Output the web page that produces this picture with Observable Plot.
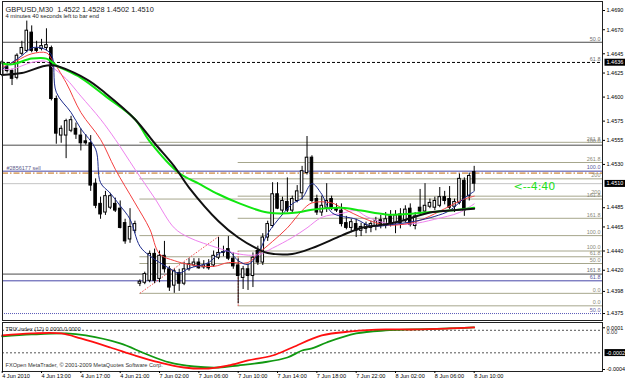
<!DOCTYPE html>
<html><head><meta charset="utf-8">
<script src="https://cdn.jsdelivr.net/npm/d3@7"></script>
<script src="https://cdn.jsdelivr.net/npm/@observablehq/plot@0.6"></script>
<style>
html,body{margin:0;padding:0;background:#fff;}
#wrap{position:relative;width:625px;height:382px;overflow:hidden;background:#fff;}
#wrap svg{position:absolute;left:0;display:block;}
</style></head>
<body><div id="wrap"></div>
<script>
// ---------------- data ----------------
const symbol = "GBPUSD,M30";
const lastQuote = [1.4522, 1.4528, 1.4502, 1.4510];
const timeLeft = "4 minutes 40 seconds left to bar end";
const timerText = "<--4:40";
const orderText = "#2856177 sell";
const trixTitle = "TRIX index (12) 0.0000 0.0000";
const copyright = "FXOpen MetaTrader, \u00a9 2001-2009 MetaQuotes Software Corp.";

const openP = [1.4623,1.4631,1.4627,1.4620,1.4645,1.4648,1.4667,1.4650,1.4650,1.4651,
1.4651,1.4598,1.4560,1.4560,1.4565,1.4567,1.4560,1.4554,1.4552,1.4510,
1.4489,1.4480,1.4485,1.4489,1.4484,1.4469,1.4452,1.4461,1.4406,1.4407,
1.4409,1.4437,1.4411,1.4435,1.4421,1.4404,1.4417,1.4406,1.4421,1.4425,
1.4428,1.4423,1.4426,1.4425,1.4433,1.4438,1.4442,1.4432,1.4425,1.4412,
1.4421,1.4414,1.4440,1.4428,1.4454,1.4466,1.4499,1.4482,1.4491,1.4482,
1.4492,1.4500,1.4521,1.4537,1.4494,1.4480,1.4485,1.4494,1.4484,1.4482,
1.4469,1.4464,1.4468,1.4461,1.4463,1.4464,1.4466,1.4472,1.4466,1.4476,
1.4469,1.4478,1.4471,1.4484,1.4466,1.4485,1.4481,1.4486,1.4485,1.4487,
1.4496,1.4494,1.4486,1.4490,1.4513,1.4497,1.4522];
const highP = [1.4638,1.4636,1.4629,1.4645,1.4658,1.4679,1.4674,1.4658,1.4660,1.4671,
1.4653,1.4601,1.4570,1.4577,1.4580,1.4573,1.4567,1.4561,1.4560,1.4515,
1.4496,1.4502,1.4500,1.4495,1.4492,1.4473,1.4484,1.4471,1.4410,1.4418,
1.4440,1.4442,1.4440,1.4450,1.4424,1.4421,1.4421,1.4428,1.4432,1.4432,
1.4432,1.4430,1.4431,1.4440,1.4454,1.4445,1.4455,1.4438,1.4432,1.4424,
1.4426,1.4438,1.4445,1.4458,1.4471,1.4511,1.4511,1.4496,1.4516,1.4497,
1.4508,1.4528,1.4559,1.4539,1.4498,1.4497,1.4510,1.4497,1.4489,1.4489,
1.4476,1.4473,1.4473,1.4469,1.4470,1.4471,1.4475,1.4477,1.4480,1.4482,
1.4482,1.4484,1.4487,1.4489,1.4480,1.4504,1.4510,1.4494,1.4496,1.4506,
1.4502,1.4507,1.4494,1.4520,1.4516,1.4521,1.4528];
const lowP = [1.4621,1.4625,1.4612,1.4618,1.4643,1.4646,1.4646,1.4646,1.4648,1.4648,
1.4596,1.4551,1.4552,1.4536,1.4563,1.4556,1.4544,1.4550,1.4502,1.4484,
1.4473,1.4477,1.4483,1.4480,1.4463,1.4447,1.4448,1.4458,1.4403,1.4405,
1.4407,1.4406,1.4407,1.4417,1.4398,1.4396,1.4398,1.4404,1.4419,1.4423,
1.4421,1.4421,1.4420,1.4423,1.4431,1.4434,1.4430,1.4421,1.4385,1.4400,
1.4399,1.4402,1.4425,1.4425,1.4450,1.4464,1.4483,1.4477,1.4480,1.4480,
1.4490,1.4493,1.4519,1.4490,1.4477,1.4476,1.4480,1.4482,1.4480,1.4465,
1.4462,1.4459,1.4454,1.4455,1.4458,1.4459,1.4461,1.4463,1.4463,1.4465,
1.4458,1.4463,1.4469,1.4465,1.4462,1.4478,1.4478,1.4484,1.4482,1.4485,
1.4488,1.4483,1.4480,1.4488,1.4476,1.4492,1.4502];
const closeP = [1.4636,1.4627,1.4619,1.4643,1.4651,1.4669,1.4648,1.4648,1.4653,1.4654,
1.4598,1.4562,1.4567,1.4575,1.4576,1.4561,1.4552,1.4552,1.4508,1.4487,
1.4478,1.4497,1.4497,1.4482,1.4464,1.4450,1.4465,1.4468,1.4408,1.4416,
1.4437,1.4409,1.4435,1.4421,1.4402,1.4419,1.4406,1.4421,1.4426,1.4428,
1.4422,1.4425,1.4422,1.4435,1.4438,1.4439,1.4432,1.4424,1.4414,1.4421,
1.4414,1.4433,1.4428,1.4454,1.4468,1.4499,1.4484,1.4492,1.4482,1.4494,
1.4502,1.4523,1.4537,1.4492,1.4480,1.4487,1.4492,1.4484,1.4482,1.4468,
1.4464,1.4470,1.4461,1.4465,1.4467,1.4468,1.4471,1.4467,1.4473,1.4469,
1.4477,1.4469,1.4483,1.4467,1.4476,1.4481,1.4487,1.4490,1.4492,1.4496,
1.4492,1.4485,1.4491,1.4515,1.4482,1.4518,1.4510];

// moving averages: [bar, price]
const maBlack = [[0,1.4623],[4,1.4625],[10,1.4633],[17,1.4619],[21,1.4604],[27,1.4577],[31,1.4552],[35,1.4528],[38,1.4506],[44,1.4471],[48,1.4454],[52,1.4442],[54,1.4438],[59,1.4437],[63,1.4443],[69,1.4456],[73,1.4464],[77,1.4467],[81,1.4471],[87,1.4480],[91,1.4482],[96,1.4484]];
const maGreen = [[0,1.4635],[2,1.4634],[6,1.4640],[9,1.4640],[11,1.4633],[16,1.4620],[21,1.4601],[27,1.4577],[30,1.4554],[36,1.4521],[40,1.4510],[44,1.4499],[48,1.4490],[54,1.4480],[60,1.4480],[63,1.4483],[69,1.4485],[73,1.4482],[78,1.4478],[81,1.4478],[86,1.4480],[91,1.4482],[96,1.4485]];
const maViolet = [[0,1.4629],[2,1.4629],[6,1.4636],[9,1.4637],[10,1.4632],[13,1.4619],[16,1.4601],[20,1.4577],[23,1.4556],[27,1.4525],[31,1.4495],[35,1.4464],[38,1.4454],[44,1.4443],[48,1.4437],[52,1.4436],[55,1.4443],[59,1.4454],[62,1.4464],[65,1.4475],[69,1.4479],[72,1.4482],[74,1.4476],[78,1.4469],[83,1.4468],[88,1.4473],[93,1.4480],[96,1.4489]];
const maRed = [[0,1.4631],[3,1.4638],[6,1.4645],[9,1.4646],[10,1.4640],[13,1.4615],[16,1.4584],[20,1.4556],[23,1.4525],[27,1.4490],[30,1.4463],[32,1.4437],[35,1.4430],[38,1.4426],[43,1.4424],[46,1.4428],[50,1.4428],[52,1.4437],[55,1.4450],[58,1.4464],[61,1.4482],[63,1.4490],[67,1.4490],[69,1.4485],[74,1.4473],[78,1.4467],[83,1.4469],[86,1.4474],[90,1.4484],[94,1.4494],[96,1.4497]];
const maBlue = [[0,1.4629],[2,1.4636],[4,1.4643],[6,1.4651],[8,1.4651],[10,1.4644],[11,1.4605],[14,1.4584],[16,1.4567],[19,1.4546],[20,1.4511],[22,1.4500],[24,1.4487],[26,1.4473],[28,1.4445],[30,1.4435],[34,1.4422],[36,1.4417],[38,1.4422],[42,1.4428],[44,1.4437],[46,1.4440],[48,1.4430],[50,1.4426],[52,1.4437],[54,1.4458],[57,1.4478],[59,1.4489],[61,1.4495],[63,1.4510],[65,1.4499],[67,1.4480],[72,1.4473],[75,1.4466],[80,1.4468],[84,1.4471],[88,1.4476],[91,1.4482],[94,1.4495],[96,1.4502]];

// TRIX: [bar, value]
const trixRed = [[0,0.000008],[6,0.000032],[12,0.000032],[16,-0.000028],[22,-0.000136],[27,-0.000232],[32,-0.000316],[37,-0.000376],[42,-0.000388],[46,-0.000352],[50,-0.000292],[55,-0.000232],[59,-0.000136],[65,0.000008],[71,0.000056],[78,0.00008],[84,0.00008],[91,0.000092],[96,0.000104]];
const trixGreen = [[0,-0.000004],[6,0.00002],[13,0.000032],[17,0.000008],[24,-0.000088],[29,-0.000208],[34,-0.000316],[39,-0.000364],[44,-0.000376],[48,-0.000352],[53,-0.000316],[58,-0.000256],[61,-0.000172],[63,-0.000148],[66,-0.000076],[72,0.000032],[78,0.000068],[84,0.00008],[91,0.000092],[96,0.000104]];
const trixLevels = [0.00007, -0.0002];
const trixTicks = [0.0001, -0.0004];
const trixHighlight = [-0.0002];
const trixLevelText = ["0.00"];

// horizontal objects
const levelPrice = [1.4657,1.4636,1.4550,1.4523,1.4521,1.4510,1.4416,1.4409,1.4375,
  1.4553,1.4515,1.4494,1.4456,1.4434,1.4427,1.4396,
  1.4532,1.4497,1.4474,1.4440,1.4383];
const levelFrom = [null,null,null,null,null,null,null,null,null,
  28,28,28,28,28,28,28,
  48,48,48,48,48];
const levelLabel = ["50.0","61.8","100.0","100.0","","","161.8","61.8","50.0",
  "261.8","200","161.8","100.0","61.8","50.0","0.0",
  "261.8","200","161.8","100.0","0.0"];
const levelKind = ["dark","dash","dark","blue","order","bid","dark","blue","dot",
  "fib","fib","fib","fib","fib","fib","fib",
  "fib","fib","fib","fib","fib"];
// fibo anchor lines
const anchorBar1 = [28, 48], anchorPrice1 = [1.4396, 1.4383];
const anchorBar2 = [44, 48], anchorPrice2 = [1.4455, 1.4440];

const priceTicks = [1.4690,1.4670,1.4645,1.4625,1.4600,1.4575,1.4555,1.4530,1.4485,1.4465,1.4440,1.4420,1.4398,1.4375];
const priceHighlight = [1.4636, 1.4510];
const timeTickBars = [0,8,16,24,32,40,48,56,64,72,80,88,96];
const timeTickLabels = ["4 Jun 2010","4 Jun 13:00","4 Jun 17:00","4 Jun 21:00","7 Jun 02:00","7 Jun 06:00","7 Jun 10:00","7 Jun 14:00","7 Jun 18:00","7 Jun 22:00","8 Jun 02:00","8 Jun 06:00","8 Jun 10:00"];

// ---------------- build ----------------
const FONT = "'Liberation Sans', Arial, sans-serif";
const xDomain = [0.06, 122.1];
const bars = openP.map((o, i) => ({i, o, h: highP[i], l: lowP[i], c: closeP[i]}));
const levels = levelPrice.map((p, k) => ({p, from: levelFrom[k], label: levelLabel[k], kind: levelKind[k]}));
const anchors = anchorBar1.map((b, k) => ({b1: b, p1: anchorPrice1[k], b2: anchorBar2[k], p2: anchorPrice2[k]}));
const lastBar = bars.length - 1;
const toObj = a => a.map(d => ({b: d[0], v: d[1]}));

const styleOf = {
  dark:  {stroke: "#4a4a4a", dash: null, text: "#707070"},
  dash:  {stroke: "#000000", dash: "3,2", text: "#707070"},
  blue:  {stroke: "#4646a8", dash: null, text: "#5a5aa0"},
  order: {stroke: "#c06a10", dash: "6,2,1.5,2", text: "#707070"},
  bid:   {stroke: "#c4c4c4", dash: null, text: "#707070"},
  dot:   {stroke: "#5a5ab8", dash: "1,1", text: "#6a6aa8"},
  fib:   {stroke: "#a6a68c", dash: null, text: "#8a8a78"}
};
const levelMarks = [];
for (const k of Object.keys(styleOf)) {
  const s = styleOf[k];
  const rows = levels.filter(d => d.kind === k);
  levelMarks.push(Plot.ruleY(rows.filter(d => d.from === null), {y: "p", stroke: s.stroke, strokeDasharray: s.dash, strokeWidth: 1}));
  levelMarks.push(Plot.ruleY(rows.filter(d => d.from !== null), {y: "p", x1: "from", x2: () => xDomain[1], stroke: s.stroke, strokeDasharray: s.dash, strokeWidth: 1}));
  levelMarks.push(Plot.text(rows.filter(d => d.label), {y: "p", text: "label", frameAnchor: "right", textAnchor: "end", dx: -2, dy: -3.5, fontSize: 5.5, fill: s.text}));
}

const main = Plot.plot({
  width: 625, height: 321, marginLeft: 2, marginRight: 23, marginTop: 1, marginBottom: 1,
  style: {fontFamily: FONT, background: "transparent", overflow: "visible"},
  x: {domain: xDomain, axis: null, label: null},
  y: {domain: [1.436776, 1.469936], label: null},
  marks: [
    ...levelMarks,
    Plot.link(anchors, {x1: "b1", y1: "p1", x2: "b2", y2: "p2", stroke: "#f05050", strokeDasharray: "1.5,1.5", strokeWidth: 1}),
    Plot.ruleX(bars, {x: "i", y1: "l", y2: "h", stroke: "#000", strokeWidth: 1}),
    Plot.rect(bars.filter(d => d.c >= d.o), {x1: d => d.i - 0.26, x2: d => d.i + 0.26, y1: "o", y2: "c", fill: "#fff", stroke: "#000", strokeWidth: 1}),
    Plot.rect(bars.filter(d => d.c < d.o), {x1: d => d.i - 0.26, x2: d => d.i + 0.26, y1: "o", y2: "c", fill: "#000", stroke: "#000", strokeWidth: 1}),
    Plot.line(toObj(maViolet), {x: "b", y: "v", stroke: "#ee82ee", strokeWidth: 1, curve: "catmull-rom"}),
    Plot.line(toObj(maRed), {x: "b", y: "v", stroke: "#f44040", strokeWidth: 1, curve: "catmull-rom"}),
    Plot.line(toObj(maBlue), {x: "b", y: "v", stroke: "#1c2a8c", strokeWidth: 1, curve: "catmull-rom"}),
    Plot.line(toObj(maGreen), {x: "b", y: "v", stroke: "#10e610", strokeWidth: 2, curve: "catmull-rom"}),
    Plot.line(toObj(maBlack), {x: "b", y: "v", stroke: "#111", strokeWidth: 2, curve: "catmull-rom"}),
    Plot.frame({stroke: "#222"}),
    Plot.text([`${symbol}  ${lastQuote.map(v => v.toFixed(4)).join(" ")}`], {frameAnchor: "top-left", dx: 3, dy: 5.5, textAnchor: "start", fontSize: 7.4, fill: "#222"}),
    Plot.text([timeLeft], {frameAnchor: "top-left", dx: 3, dy: 12.8, textAnchor: "start", fontSize: 5.8, fill: "#222"}),
    Plot.text([levelPrice[levelKind.indexOf("order")]], {y: d => d, text: () => orderText, frameAnchor: "left", textAnchor: "start", dx: 4, dy: -4.5, fontSize: 5.5, fill: "#5a5a8a"}),
    Plot.text([closeP[lastBar]], {x: () => lastBar + 8, y: d => d, text: () => timerText, textAnchor: "start", dy: 3, fontSize: 11, fill: "#22e022", fontFamily: "'DejaVu Sans', sans-serif"}),
    Plot.axisY({ticks: priceTicks, anchor: "right", label: null, tickSize: 2, tickPadding: 2, tickFormat: d => d.toFixed(4), fontSize: 5.5}),
    Plot.text(priceHighlight, {y: d => d, text: d => d.toFixed(4), frameAnchor: "right", textAnchor: "start", dx: 4, fontSize: 5.5, fill: "#fff"})
  ]
});

const ind = Plot.plot({
  width: 625, height: 60, marginLeft: 2, marginRight: 23, marginTop: 0, marginBottom: 11,
  style: {fontFamily: FONT, background: "transparent", overflow: "visible"},
  x: {domain: xDomain, label: null},
  y: {domain: [-0.000424, 0.0001636], label: null},
  marks: [
    Plot.ruleY(trixLevels, {stroke: "#555", strokeDasharray: "2,2"}),
    Plot.line(toObj(trixGreen), {x: "b", y: "v", stroke: "#119911", strokeWidth: 1.8, curve: "catmull-rom"}),
    Plot.line(toObj(trixRed), {x: "b", y: "v", stroke: "#ff1010", strokeWidth: 1.8, curve: "catmull-rom"}),
    Plot.frame({stroke: "#222"}),
    Plot.text([trixTitle], {frameAnchor: "top-left", dx: 3, dy: 4.8, textAnchor: "start", fontSize: 5.5, fill: "#222"}),
    Plot.text([copyright], {frameAnchor: "bottom-left", dx: 3, dy: -5, textAnchor: "start", fontSize: 5.6, fill: "#333"}),
    Plot.axisY({ticks: trixTicks, anchor: "right", label: null, tickSize: 2, tickPadding: 2, tickFormat: d => d.toFixed(4), fontSize: 5.5}),
    Plot.text(trixLevels.slice(0, 1), {y: d => d, text: () => trixLevelText[0], frameAnchor: "right", textAnchor: "start", dx: 4, dy: 1.5, fontSize: 5.5, fill: "#333"}),
    Plot.text(trixHighlight, {y: d => d, text: d => d.toFixed(4), frameAnchor: "right", textAnchor: "start", dx: 4, fontSize: 5.5, fill: "#fff"}),
    Plot.axisX({ticks: timeTickBars, anchor: "bottom", label: null, tickSize: 2, tickPadding: 1, textAnchor: "start", fontSize: 5.6, tickFormat: d => timeTickLabels[timeTickBars.indexOf(d)]})
  ]
});

const wrap = document.getElementById("wrap");
main.style.top = "0px";
ind.style.top = "322px";
wrap.appendChild(main);
wrap.appendChild(ind);

const hlTexts = new Set([...priceHighlight, ...trixHighlight].map(d => d.toFixed(4)));
function addBoxes(svg) {
  const texts = Array.from(svg.querySelectorAll("text")).filter(t => hlTexts.has(t.textContent.trim()));
  for (const t of texts) {
    const b = t.getBBox();
    const r = document.createElementNS("http://www.w3.org/2000/svg", "rect");
    r.setAttribute("x", b.x - 2);
    r.setAttribute("y", b.y - 0.5);
    r.setAttribute("width", b.width + 6);
    r.setAttribute("height", b.height + 1);
    r.setAttribute("fill", "#000");
    r.setAttribute("stroke", "none");
    const tr = t.getAttribute("transform");
    if (tr) r.setAttribute("transform", tr);
    t.parentNode.insertBefore(r, t);
  }
}
addBoxes(main);
addBoxes(ind);
</script>
</body></html>
